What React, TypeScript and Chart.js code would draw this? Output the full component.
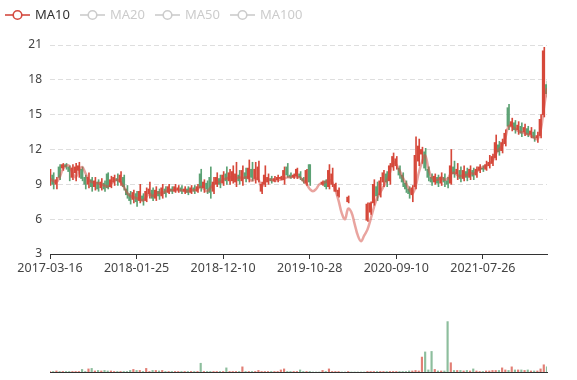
import React, { useEffect, useRef } from 'react';
import { Chart, registerables } from 'chart.js';

Chart.register(...registerables);

// ---- tick labels of the category (date) axis ----
const tickIndices = [0, 27, 54, 81, 108, 135];
const tickLabels = ['2017-03-16', '2018-01-25', '2018-12-10', '2019-10-28', '2020-09-10', '2021-07-26'];

// ---- legend ----
const legendNames = ['MA10', 'MA20', 'MA50', 'MA100'];
const legendActive = [true, false, false, false];

// ---- daily candles: [open, close, low, high] ----
const candles: ([number, number, number, number] | null)[] = [
  [9.2, 9.9, 8.9, 10.3], [9.8, 9.0, 8.6, 10.0], [9.0, 9.4, 8.6, 9.6], [10.5, 9.6, 9.4, 10.7], [10.4, 10.7, 10.2, 10.8],
  [10.7, 10.5, 10.3, 10.8], [10.5, 10.1, 9.3, 10.6], [9.6, 10.4, 9.4, 10.7], [10.0, 10.5, 9.3, 10.8], [10.2, 10.6, 9.6, 10.9],
  [10.3, 9.5, 9.3, 10.5], [9.6, 9.0, 8.6, 9.8], [9.0, 9.6, 8.7, 10.0], [9.4, 8.8, 8.4, 9.6], [8.8, 9.3, 8.5, 9.6],
  [9.2, 8.6, 8.4, 9.4], [8.7, 9.2, 8.5, 9.5], [9.1, 8.6, 8.4, 9.3], [9.9, 8.7, 8.6, 10.0], [8.8, 9.4, 8.7, 9.7],
  [9.2, 9.6, 8.9, 9.8], [9.5, 9.3, 8.9, 9.9], [9.2, 9.8, 8.9, 10.1], [9.6, 8.8, 8.5, 9.8], [8.6, 8.1, 7.8, 8.9],
  [8.2, 7.6, 7.3, 8.4], [7.7, 8.3, 7.4, 8.5], [8.2, 7.5, 7.1, 8.4], [7.6, 8.4, 7.4, 9.0], [8.0, 7.6, 7.2, 8.2],
  [7.6, 8.4, 7.5, 8.7], [8.2, 8.6, 7.8, 9.2], [8.5, 7.8, 7.6, 8.7], [7.8, 8.5, 7.6, 8.8], [8.4, 8.0, 7.7, 8.6],
  [8.0, 8.7, 7.8, 9.0], [8.6, 8.2, 7.9, 8.8], [8.3, 8.8, 8.2, 9.0], [8.6, 8.4, 8.2, 8.8], [8.4, 8.8, 8.3, 9.0],
  [8.5, 8.7, 8.3, 8.9], [8.7, 8.4, 8.2, 8.9], [8.4, 8.6, 8.2, 8.8], [8.6, 8.3, 8.1, 8.8], [8.3, 8.7, 8.2, 8.9],
  [8.7, 8.4, 8.2, 8.9], [8.4, 8.8, 8.3, 9.0], [9.9, 8.7, 8.4, 10.3], [8.7, 9.2, 8.3, 9.4], [9.1, 8.6, 8.2, 9.3],
  [9.6, 8.3, 7.8, 10.5], [8.4, 9.2, 8.2, 9.6], [9.0, 9.6, 8.8, 10.0], [9.5, 9.0, 8.7, 9.8], [9.1, 9.8, 8.9, 10.1],
  [9.9, 9.3, 9.0, 10.5], [9.3, 10.0, 9.0, 10.3], [9.3, 10.1, 9.1, 10.6], [9.2, 9.9, 8.8, 10.9], [9.8, 9.3, 9.0, 10.2],
  [9.3, 10.2, 8.9, 10.6], [10.0, 9.5, 9.2, 10.4], [9.5, 10.4, 9.2, 11.1], [10.3, 9.6, 9.3, 10.9], [9.5, 10.3, 9.1, 10.9],
  [9.4, 10.5, 9.2, 11.0], [8.4, 9.0, 8.2, 9.2], [9.0, 9.8, 8.8, 10.6], [9.2, 9.6, 9.0, 9.9], [9.5, 9.3, 9.1, 9.7],
  [9.3, 9.5, 9.2, 9.7], [9.4, 9.6, 9.2, 9.8], [9.5, 9.6, 9.4, 9.7], [9.4, 10.2, 9.0, 10.5], [10.5, 9.8, 9.6, 10.8],
  [9.8, 9.6, 9.5, 10.0], [9.6, 9.8, 9.5, 9.9], [9.7, 10.3, 9.5, 10.4], [9.9, 9.6, 9.4, 10.1], [9.5, 9.3, 9.1, 9.6],
  [9.1, 10.2, 8.9, 10.3], [10.7, 9.2, 8.9, 10.7], null, null, null,
  [9.0, 9.2, 8.9, 9.3], [9.3, 8.8, 8.6, 9.4], [8.8, 10.2, 8.6, 10.7], [9.0, 9.9, 8.8, 10.4], [8.4, 9.0, 8.4, 9.1],
  [8.0, 8.5, 7.9, 8.7], null, null, [7.5, 7.9, 7.4, 8.0], null,
  null, null, null, null, [5.9, 7.3, 5.8, 7.4],
  [6.6, 7.4, 6.4, 7.5], [7.4, 9.0, 7.2, 9.4], [8.8, 8.0, 7.6, 9.2], [8.1, 9.3, 7.9, 9.6], [9.2, 10.0, 8.8, 10.2],
  [9.9, 9.2, 8.8, 10.1], [9.3, 10.6, 9.0, 10.8], [10.5, 11.4, 10.2, 11.7], [10.6, 11.2, 10.3, 11.4], [10.4, 9.8, 9.5, 10.6],
  [9.8, 9.2, 8.8, 10.0], [9.1, 8.6, 8.3, 9.3], [8.6, 8.2, 7.8, 8.8], [8.1, 8.7, 7.5, 8.9], [8.8, 11.5, 8.6, 13.1],
  [11.0, 12.3, 10.6, 12.9], [11.6, 12.0, 10.8, 12.2], [11.8, 10.4, 10.2, 12.1], [10.3, 9.6, 9.3, 10.5], [9.6, 9.2, 8.9, 9.9],
  [9.2, 9.7, 9.0, 9.9], [9.6, 9.1, 8.8, 9.8], [9.1, 9.6, 8.9, 10.0], [9.6, 9.2, 8.8, 9.9], [9.3, 9.0, 8.7, 9.6],
  [9.1, 10.6, 9.0, 12.0], [10.5, 9.9, 9.6, 11.0], [9.9, 10.3, 9.4, 10.8], [10.2, 9.5, 9.2, 10.5], [9.5, 10.2, 9.3, 10.6],
  [10.1, 9.6, 9.3, 10.4], [9.6, 10.3, 9.4, 10.6], [10.2, 9.7, 9.4, 10.4], [9.8, 10.3, 9.6, 10.5], [10.2, 10.5, 10.0, 10.7],
  [10.4, 10.3, 10.1, 10.6], [10.3, 10.7, 10.2, 11.0], [10.6, 10.9, 10.4, 11.5], [10.8, 11.4, 10.6, 11.6], [11.3, 12.6, 11.1, 13.25],
  [12.4, 11.8, 11.5, 12.7], [11.9, 12.6, 11.7, 12.9], [12.5, 13.4, 12.3, 13.7], [15.6, 14.0, 13.7, 15.9], [14.0, 14.4, 13.6, 14.7],
  [14.3, 13.7, 13.4, 14.5], [13.7, 14.1, 13.3, 14.4], [14.0, 13.4, 13.1, 14.3], [13.5, 13.9, 13.2, 14.2], [13.8, 13.3, 13.1, 14.0],
  [13.3, 13.6, 13.0, 13.9], [13.5, 13.0, 12.7, 13.7], [13.0, 13.2, 12.6, 13.5], [13.2, 14.6, 13.0, 15.0], [15.0, 20.5, 14.8, 20.8],
  [17.6, 16.8, 16.5, 17.9],
];

// ---- 10-day moving average ----
const ma10: number[] = [
  9.5, 9.3, 9.2, 9.6, 10.3, 10.6, 10.6, 10.0, 9.6, 10.2,
  10.5, 10.0, 9.4, 9.2, 9.1, 9.1, 9.0, 8.9, 8.8, 9.0,
  9.3, 9.4, 9.2, 8.8, 8.3, 8.0, 7.9, 7.8, 7.7, 7.6,
  7.9, 8.2, 8.0, 8.2, 8.3, 8.2, 8.4, 8.5, 8.5, 8.5,
  8.5, 8.5, 8.4, 8.4, 8.5, 8.5, 8.6, 8.8, 8.6, 8.4,
  8.7, 9.0, 9.2, 9.2, 9.4, 9.5, 9.6, 9.6, 9.5, 9.6,
  9.5, 9.6, 9.5, 9.3, 9.5, 9.4, 8.8, 9.2, 9.4, 9.4,
  9.3, 9.4, 9.4, 9.5, 9.6, 9.6, 9.7, 9.6, 9.6, 9.3,
  9.0, 8.6, 8.4, 8.6, 9.0, 9.1, 9.2, 9.4, 9.2, 8.5,
  7.6, 6.5, 6.0, 6.9, 6.6, 5.6, 4.6, 4.1, 4.6, 5.1,
  6.0, 7.0, 7.8, 8.3, 8.8, 9.3, 10.0, 10.9, 10.7, 10.2,
  9.6, 9.1, 8.6, 8.2, 8.8, 10.0, 10.9, 11.5, 10.4, 9.6,
  9.4, 9.4, 9.6, 9.4, 9.5, 9.9, 10.0, 9.8, 9.7, 9.8,
  9.8, 10.0, 9.9, 10.1, 10.3, 10.5, 10.6, 10.8, 11.0, 11.6,
  12.0, 12.3, 13.0, 14.0, 14.0, 13.8, 13.6, 13.5, 13.4, 13.3,
  13.2, 13.0, 12.9, 13.6, 15.5, 17.3,
];

// ---- traded volume (relative units) ----
const volumes: number[] = [
  1, 1, 2, 1, 1, 1, 1, 1, 1, 1,
  5, 1, 6, 7, 2, 3, 2, 3, 2, 2,
  1, 1, 1, 1, 1, 3, 5, 3, 3, 1,
  7, 1, 3, 3, 2, 3, 1, 1, 1, 1,
  1, 1, 1, 1, 1, 1, 1, 17, 1, 1,
  1, 1, 1, 1, 1, 8, 1, 1, 1, 1,
  10, 1, 1, 1, 1, 3, 1, 1, 1, 1,
  1, 1, 4, 6, 1, 1, 1, 1, 4, 1,
  1, 1, 0, 0, 0, 3, 1, 6, 1, 1,
  1, 0, 0, 1, 0, 0, 0, 0, 0, 1,
  1, 1, 1, 1, 1, 1, 1, 1, 1, 1,
  1, 1, 2, 2, 3, 2, 29, 39, 4, 40,
  5, 2, 2, 2, 98, 18, 3, 3, 3, 2,
  3, 2, 6, 2, 1, 1, 2, 2, 3, 3,
  3, 8, 4, 3, 10, 4, 4, 4, 3, 4,
  2, 2, 2, 6, 14, 10,
];

const UP = 'rgb(214, 72, 58)';
const DOWN = 'rgb(92, 162, 116)';
const MA_COLOR = 'rgb(212, 74, 64)';
const FONT = '"Noto Sans", "Open Sans", sans-serif';

export default function App() {
  const mainRef = useRef<HTMLCanvasElement>(null);
  const volRef = useRef<HTMLCanvasElement>(null);

  useEffect(() => {
    const N = ma10.length;
    const up = (c: any) => c && c[1] >= c[0];
    const bodyData = candles.map((c, i) => ({ x: i, y: c ? [Math.min(c[0], c[1]), Math.max(c[0], c[1])] : null }));
    const wickData = candles.map((c, i) => ({ x: i, y: c ? [c[2], c[3]] : null }));
    const colors = candles.map((c) => (up(c) ? UP : DOWN));
    const maData = ma10.map((v, i) => ({ x: i, y: v }));
    const volData = volumes.map((v, i) => ({ x: i, y: v }));
    const volColors = candles.map((c) => (up(c) ? 'rgba(214, 72, 58, 0.7)' : 'rgba(92, 162, 116, 0.7)'));

    const legendPlugin = {
      id: 'maLegend',
      afterDraw(chart: any) {
        const ctx = chart.ctx;
        ctx.save();
        legendNames.forEach((name, i) => {
          const x0 = 5 + i * 75;
          const y = 15;
          const col = legendActive[i] ? MA_COLOR : '#ccc';
          ctx.strokeStyle = col;
          ctx.lineWidth = 1.6;
          ctx.beginPath();
          ctx.moveTo(x0, y);
          ctx.lineTo(x0 + 25, y);
          ctx.stroke();
          ctx.beginPath();
          ctx.arc(x0 + 12.5, y, 4.3, 0, Math.PI * 2);
          ctx.fillStyle = '#fff';
          ctx.fill();
          ctx.stroke();
          ctx.fillStyle = legendActive[i] ? '#333' : '#ccc';
          ctx.font = '13px ' + FONT;
          ctx.textBaseline = 'middle';
          ctx.textAlign = 'left';
          ctx.fillText(name, x0 + 30, y + 0.5);
        });
        ctx.restore();
      },
    };

    const main = new Chart(mainRef.current as HTMLCanvasElement, {
      type: 'bar',
      data: {
        datasets: [
          {
            type: 'line',
            data: maData,
            borderColor: 'rgba(212, 74, 64, 0.5)',
            borderWidth: 2.5,
            pointRadius: 0,
            tension: 0.4,
            order: 0,
          } as any,
          {
            type: 'bar',
            data: bodyData as any,
            backgroundColor: colors,
            barThickness: 1.6,
            minBarLength: 1,
            borderWidth: 0,
            order: 1,
          },
          {
            type: 'bar',
            data: wickData as any,
            backgroundColor: colors,
            barThickness: 1,
            borderWidth: 0,
            order: 2,
          },
        ],
      },
      options: {
        responsive: false,
        animation: false,
        devicePixelRatio: 1,
        layout: { padding: { left: 0, right: 30, top: 45, bottom: 0 } },
        plugins: { legend: { display: false }, tooltip: { enabled: false } },
        scales: {
          x: {
            type: 'linear',
            min: 0,
            max: N - 1,
            offset: false,
            afterBuildTicks: (scale: any) => {
              scale.ticks = tickIndices.map((v) => ({ value: v }));
            },
            afterFit: (scale: any) => {
              scale.height = 36;
            },
            ticks: {
              autoSkip: false,
              maxRotation: 0,
              color: '#444',
              font: { family: FONT, size: 12.5 },
              padding: 2,
              callback: (v: any) => {
                const k = tickIndices.indexOf(Number(v));
                return k >= 0 ? tickLabels[k] : '';
              },
            },
            grid: { display: true, offset: false, drawOnChartArea: false, drawTicks: true, tickLength: 5, color: '#333' },
            border: { display: true, color: '#333', width: 1 },
          },
          y: {
            type: 'linear',
            min: 3,
            max: 21,
            afterBuildTicks: (scale: any) => {
              scale.ticks = [3, 6, 9, 12, 15, 18, 21].map((v) => ({ value: v }));
            },
            afterFit: (scale: any) => {
              scale.width = 50;
            },
            ticks: { color: '#444', font: { family: FONT, size: 12 }, padding: 8 },
            grid: {
              drawTicks: false,
              color: (ctx: any) => (ctx.tick && ctx.tick.value === 3 ? 'rgba(0,0,0,0)' : '#dedede'),
            },
            border: { display: false, dash: [5, 3] },
          },
        },
      },
      plugins: [legendPlugin],
    });

    const vol = new Chart(volRef.current as HTMLCanvasElement, {
      type: 'bar',
      data: {
        datasets: [
          {
            data: volData as any,
            backgroundColor: volColors,
            barThickness: 1.5,
            borderWidth: 0,
          },
        ],
      },
      options: {
        responsive: false,
        animation: false,
        devicePixelRatio: 1,
        layout: { padding: { left: 50, right: 30, top: 10, bottom: 0 } },
        plugins: { legend: { display: false }, tooltip: { enabled: false } },
        scales: {
          x: {
            type: 'linear',
            min: 0,
            max: N - 1,
            offset: false,
            afterFit: (scale: any) => {
              scale.height = 8;
            },
            ticks: { display: false },
            grid: { display: false, offset: false },
            border: { display: true, color: '#333', width: 1 },
          },
          y: { display: false, min: 0, max: 140 },
        },
      },
    });

    return () => {
      main.destroy();
      vol.destroy();
    };
  }, []);

  return (
    <div style={{ position: 'absolute', left: 0, top: 0, width: 577, height: 380, background: '#fff' }}>
      <canvas ref={mainRef} width={577} height={290} style={{ position: 'absolute', left: 0, top: 0, width: 577, height: 290 }} />
      <canvas ref={volRef} width={577} height={90} style={{ position: 'absolute', left: 0, top: 290, width: 577, height: 90 }} />
    </div>
  );
}
